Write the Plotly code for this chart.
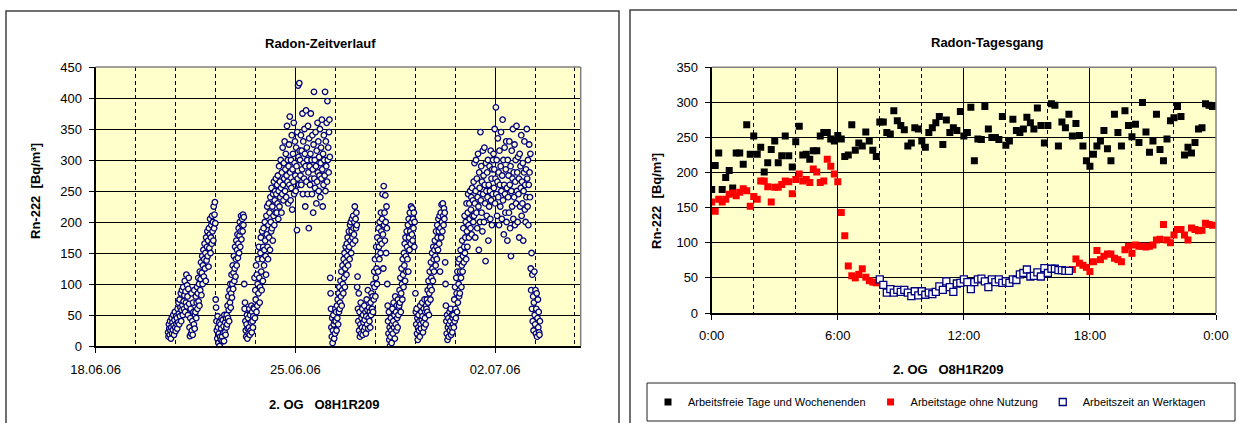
import pandas as pd
import plotly.graph_objects as go

# ---------------- data: Radon-Zeitverlauf (20-minute values per segment) ----------------
seg_starts = ["2006-06-20 13:00", "2006-06-22 05:00", "2006-06-22 14:20", "2006-06-23 05:00",
              "2006-06-23 13:20", "2006-06-26 05:20", "2006-06-27 04:00", "2006-06-28 05:20",
              "2006-06-29 05:00", "2006-06-30 06:00", "2006-06-30 13:00", "2006-07-03 06:00"]

seg_a = [22, 15, 35, 28, 18, 40, 25, 12, 30, 45, 20, 38, 26, 50, 33, 18, 42, 55, 30, 24, 48, 36,
         45, 28, 60, 38, 70, 52, 35, 75, 48, 62, 85, 40, 58, 90, 66, 50, 95, 72, 60, 82, 105, 55, 88,
         70, 115, 64, 98, 80, 50, 92, 110, 68,
         30, 16, 45, 60, 20, 85, 25, 40, 18, 70, 55, 35, 90, 28, 50,
         55, 80, 45, 70, 95, 60, 85, 110, 72, 100, 65, 120, 90, 108, 135, 82, 118, 145, 100, 130,
         155, 112, 140, 165, 125, 150, 105, 175, 138, 160, 185, 145, 170, 128, 190, 158, 180, 205, 150,
         175, 195, 165, 210, 185, 200, 170, 225, 190, 212, 232, 198]
seg_b = [75, 62, 40, 25, 12, 48, 30, 5, 20, 38, 0, 15, 35, 10, 28, 45, 15, 8, 42, 22, 32, 8, 50, 22,
         38, 18, 45, 30]
seg_c = [50, 35, 65, 45, 80, 58, 40, 90, 70, 100, 62, 85, 115, 78, 100, 130, 92, 118, 145, 105, 125,
         160, 112, 140, 170, 130, 155, 180, 142, 165, 190, 150, 178, 200, 160, 185, 210, 172, 195, 205,
         185, 212, 195, 208]
seg_d = [100, 60, 70, 40, 25, 15, 35, 50, 12, 28, 45, 20, 30, 60, 18, 50, 25, 38, 65, 22, 55, 40, 30,
         48, 62]
seg_e = [60, 110, 45, 90, 75, 130, 55, 115, 65, 100, 140, 85, 160, 110, 70, 95, 150, 175, 120, 90, 185,
         140, 105, 160, 190, 130, 155, 200, 170, 145, 115, 210, 180, 225, 160, 140, 195, 230, 175, 215,
         155, 240, 200, 185, 255, 190, 225, 170, 245, 210, 265, 195, 235, 250, 215, 270,
         245, 215, 260, 230, 275, 205, 250, 290, 225, 265, 240, 300, 255, 215, 280, 245, 320, 260, 235,
         295, 270, 330, 250, 285, 310, 240, 275, 355, 265, 300, 230, 290, 325, 260, 370, 280, 235, 300,
         255, 340, 220, 285, 310, 265, 360, 245, 295, 330, 275, 250, 320, 290, 187, 345, 270, 420, 305,
         260, 424, 315,
         300, 275, 340, 260, 315, 285, 375, 245, 330, 295, 270, 350, 310, 225, 290, 380, 265, 320, 300,
         245, 355, 280, 190, 335, 290, 260, 310, 375, 270, 300, 245, 340, 285, 215, 325, 410, 270, 300,
         255, 345, 290, 230, 315, 265, 360, 280, 330, 250, 305, 275, 350, 240, 295, 320, 270, 365, 285,
         225, 310, 260, 340, 300, 275, 410, 250, 330, 290, 360, 265, 395, 300, 320, 280, 345, 365, 305]
seg_f = [110, 85, 60, 30, 15, 45, 5, 25, 50, 35, 12, 40, 20, 60,
         40, 55, 25, 65, 45, 75, 35, 85, 55, 95, 60, 70, 105, 80, 120, 65, 90, 130, 100, 85, 140, 110,
         150, 95, 125, 160, 135, 115, 165, 145, 175, 130, 155, 185, 160, 140, 195, 170, 200, 150, 185,
         205, 175, 165, 210, 190, 180, 200, 225, 170, 205, 190, 215, 195]
seg_g = [95, 112, 60, 40, 85, 25, 55, 15, 35, 70, 20, 45, 30, 60, 18, 50, 38, 25, 65, 42, 30, 55, 20,
         48, 75, 35, 58, 90, 28, 45, 62, 40, 55, 30, 70, 50, 85, 60,
         60, 80, 55, 100, 75, 120, 95, 140, 80, 110, 160, 125, 100, 175, 145, 120, 190, 160, 140, 200,
         170, 150, 215, 185, 165, 205, 245, 180, 125, 258, 195, 215, 170, 243, 200, 150, 225, 190]
seg_h = [100, 65, 40, 20, 55, 10, 30, 0, 15, 45, 25, 5, 35, 60, 20, 40, 70, 30, 50, 12, 80, 35, 55,
         25, 65, 45, 30, 75, 50, 62,
         65, 90, 70, 110, 55, 85, 125, 100, 75, 140, 115, 95, 150, 130, 165, 105, 175, 145, 120, 185,
         160, 140, 195, 120, 205, 175, 155, 215, 185, 165, 225, 200, 180, 222, 170, 205, 190, 215, 160,
         200]
seg_i = [85, 55, 35, 60, 20, 45, 10, 30, 50, 25, 40, 15, 65, 35, 28, 55, 42, 70, 48, 22, 38, 60, 30,
         75, 45, 55, 35, 65,
         60, 75, 55, 90, 70, 105, 50, 85, 120, 95, 75, 135, 110, 90, 150, 125, 105, 160, 140, 120, 155,
         170, 145, 130, 185, 160, 140, 195, 175, 155, 205, 185, 165, 210, 120, 190, 215, 175, 228, 200,
         185, 230, 210, 195, 222, 205, 215]
seg_j = [135, 100, 65, 40, 20, 50, 10, 30, 45, 15, 35, 55, 25, 40, 60, 18, 30, 50, 22, 45, 35]
seg_k = [50, 30, 75, 40, 95, 60, 45, 110, 85, 55, 120, 70, 135, 100, 80, 140, 85, 120, 155, 110, 95,
         130, 170, 120, 145, 190, 135, 160, 210, 150, 175, 200, 140, 230, 185, 160, 215, 245, 195, 175,
         230, 205, 250, 190, 220, 240, 180, 255, 210, 235, 200,
         265, 210, 295, 230, 175, 250, 300, 215, 270, 190, 240, 310, 225, 155, 280, 255, 200, 345, 235,
         290, 215, 265, 185, 315, 245, 275, 200, 320, 260, 230, 137, 295, 250, 210, 280, 240, 300, 170,
         260, 225, 290, 250, 205, 315, 235, 270, 195, 285, 245, 300,
         310, 255, 285, 350, 230, 270, 385, 245, 300, 210, 265, 335, 240, 280, 195, 315, 260, 225, 290,
         345, 250, 205, 275, 365, 235, 300, 180, 260, 320, 245, 215, 285, 330, 200, 255, 170, 300, 240,
         275, 215, 330, 260, 190, 290, 145, 250, 315, 225, 270, 350, 205, 280, 240, 325, 195, 265, 300,
         230, 355, 250, 280, 200, 305, 245, 270, 175, 310, 225, 290, 255, 340, 210, 265, 230, 295, 170,
         250, 280, 330, 220, 260, 200, 285, 240, 350, 270, 225, 300, 195, 260, 325, 280, 240, 310]
seg_l = [125, 90, 150, 60, 115, 40, 80, 25, 70, 120, 50, 35, 90, 20, 60, 85, 15, 45, 75, 30, 55, 22,
         18, 40]

segments = [seg_a, seg_b, seg_c, seg_d, seg_e, seg_f, seg_g, seg_h, seg_i, seg_j, seg_k, seg_l]

# ---------------- data: Radon-Tagesgang (10-minute slots, 0:00 .. 23:50) ----------------
black_vals = [176, 210, 228, 176, 193, 203, 178, 228, 228, 212, 268, 226, 252, 226, 236, 201, 214, 233,
              245, 214, 224, 252, 224, 208, 244, 266, 225, 226, 219, 231, 231, 252, 257, 257, 248, 245,
              253, 248, 223, 225, 268, 232, 242, 238, 258, 245, 232, 223, 272, 272, 257, 255, 288, 274,
              267, 261, 238, 242, 264, 262, 245, 236, 257, 264, 271, 280, 240, 275, 257, 264, 260, 287,
              252, 257, 293, 217, 248, 247, 294, 262, 250, 250, 247, 280, 239, 245, 276, 260, 257, 262,
              279, 271, 262, 292, 267, 242, 267, 298, 296, 238, 272, 264, 283, 252, 270, 253, 238, 217,
              209, 226, 238, 245, 260, 234, 217, 283, 257, 238, 288, 267, 251, 269, 243, 300, 258, 229,
              245, 283, 233, 217, 248, 274, 278, 294, 280, 225, 236, 228, 243, 262, 264, 298, 296, 294]
red_morning = [158, 145, 162, 158, 162, 169, 171, 167, 172, 177, 174, 152, 166, 162, 188, 188, 180, 158,
               179, 179, 183, 188, 187, 170, 190, 198, 188, 190, 186, 205, 201, 186, 188, 219, 209, 198,
               187, 143, 110, 67, 53, 50, 55, 63, 51, 46, 44, 43]
blue_vals = [48, 40, 29, 34, 29, 33, 30, 33, 29, 24, 31, 25, 31, 26, 29, 27, 30, 38, 33, 45, 37, 30, 42,
             43, 48, 44, 34, 44, 48, 49, 45, 37, 48, 44, 48, 43, 45, 43, 48, 47, 55, 57, 62, 52, 53, 58,
             52, 64, 57, 63, 63, 61, 61, 60, 60]
red_evening = [62, 77, 71, 68, 65, 59, 73, 89, 76, 81, 84, 84, 78, 76, 73, 90, 95, 85, 97, 95, 95, 94,
               95, 97, 104, 105, 126, 104, 100, 111, 119, 119, 111, 104, 121, 119, 117, 118, 128, 126, 125]

hour_ticks = [0, 6, 12, 18, 24]
hour_labels = ["0:00", "6:00", "12:00", "18:00", "0:00"]
legend_names = ["Arbeitsfreie Tage und Wochenenden", "Arbeitstage ohne Nutzung", "Arbeitszeit an Werktagen"]

# ---------------- build ----------------
W, H = 1237, 423
FONT = "Liberation Sans, Arial, sans-serif"


def fx(p):
    return p / W


def fy(p):
    return 1 - p / H


t_x, t_y = [], []
for start, vals in zip(seg_starts, segments):
    t_x.extend(pd.date_range(start, periods=len(vals), freq="20min"))
    t_y.extend(vals)

slot_h = 10 / 60
black_x = [i * slot_h for i in range(len(black_vals))]
red_x = [i * slot_h for i in range(len(red_morning))]
blue_start = len(red_morning)
blue_x = [(blue_start + i) * slot_h for i in range(len(blue_vals))]
eve_start = blue_start + len(blue_vals)
red_eve_x = [(eve_start + i) * slot_h for i in range(len(red_evening))]

fig = go.Figure()
fig.add_trace(go.Scatter(x=t_x, y=t_y, mode="markers", xaxis="x", yaxis="y", showlegend=False,
                         marker=dict(symbol="circle", size=5.5, color="#FFFFCC",
                                     line=dict(color="#000080", width=1.3)),
                         name="Rn-222"))
fig.add_trace(go.Scatter(x=black_x, y=black_vals, mode="markers", xaxis="x2", yaxis="y2",
                         name=legend_names[0], legendgroup="a",
                         marker=dict(symbol="square", size=7, color="black")))
fig.add_trace(go.Scatter(x=red_x + red_eve_x, y=red_morning + red_evening, mode="markers",
                         xaxis="x2", yaxis="y2", name=legend_names[1], legendgroup="b",
                         marker=dict(symbol="square", size=7, color="#FF0000")))
fig.add_trace(go.Scatter(x=blue_x, y=blue_vals, mode="markers", xaxis="x2", yaxis="y2",
                         name=legend_names[2], legendgroup="c",
                         marker=dict(symbol="square", size=7, color="white",
                                     line=dict(color="#000080", width=1.3))))

axis_common = dict(showline=True, linecolor="black", linewidth=2, ticks="outside", ticklen=5,
                   tickcolor="black", tickwidth=1, showgrid=True, gridcolor="black", gridwidth=1,
                   zeroline=False, automargin=False,
                   tickfont=dict(family=FONT, size=13, color="black"))

fig.update_layout(
    width=W, height=H, margin=dict(l=0, r=0, t=0, b=0, pad=0, autoexpand=False),
    paper_bgcolor="white", plot_bgcolor="#FFFFCC",
    font=dict(family=FONT, color="black"),
    xaxis=dict(domain=[fx(95.6), fx(580.7)], anchor="y", type="date",
               range=["2006-06-18", "2006-07-05"], tick0="2006-06-18", dtick=7 * 86400000,
               tickformat="%d.%m.%y", ticklabelstandoff=5,
               minor=dict(dtick=1.4 * 86400000, tick0="2006-06-18", showgrid=True,
                          gridcolor="black", griddash="4px,3px", gridwidth=1, ticklen=0),
               **axis_common),
    yaxis=dict(domain=[fy(346), fy(67)], anchor="x", range=[0, 450], dtick=50,
               ticklabelstandoff=4, **axis_common),
    xaxis2=dict(domain=[fx(711.7), fx(1216)], anchor="y2", range=[0, 24],
                tickvals=hour_ticks, ticktext=hour_labels, ticklabelstandoff=4,
                minor=dict(dtick=2, tick0=0, showgrid=True, gridcolor="black",
                           griddash="4px,3px", gridwidth=1, ticklen=0),
                **axis_common),
    yaxis2=dict(domain=[fy(313), fy(67.3)], anchor="x2", range=[0, 350], dtick=50,
                ticklabelstandoff=4, **axis_common),
    legend=dict(orientation="h", x=fx(648), xanchor="left", y=fy(402), yanchor="middle",
                font=dict(family=FONT, size=11, color="black"), bgcolor="rgba(0,0,0,0)",
                itemwidth=30, tracegroupgap=0),
)

shapes = []
# outer chart frames
shapes.append(dict(type="rect", xref="paper", yref="paper", x0=fx(6), x1=fx(619), y0=-0.05, y1=fy(11),
                   line=dict(color="#404040", width=1.5), fillcolor="rgba(0,0,0,0)"))
shapes.append(dict(type="rect", xref="paper", yref="paper", x0=fx(630), x1=1.05, y0=-0.05, y1=fy(10),
                   line=dict(color="#404040", width=1.5), fillcolor="rgba(0,0,0,0)"))
# legend box
shapes.append(dict(type="rect", xref="paper", yref="paper", x0=fx(647), x1=fx(1235), y0=fy(421),
                   y1=fy(383), line=dict(color="#202020", width=1), fillcolor="rgba(0,0,0,0)"))
# grey plot-area borders (top and right)
for xr, yr in (("x domain", "y domain"), ("x2 domain", "y2 domain")):
    shapes.append(dict(type="line", xref=xr, yref=yr, x0=0, x1=1, y0=1, y1=1,
                       line=dict(color="#808080", width=1.5)))
    shapes.append(dict(type="line", xref=xr, yref=yr, x0=1, x1=1, y0=0, y1=1,
                       line=dict(color="#808080", width=1.5)))
fig.update_layout(shapes=shapes)

nb = "\u00a0"
ann = [
    dict(text="<b>Radon-Zeitverlauf</b>", x=fx(320), y=fy(43), size=13, angle=0),
    dict(text="<b>Radon-Tagesgang</b>", x=fx(987), y=fy(42), size=13, angle=0),
    dict(text=f"<b>2. OG{nb*3}O8H1R209</b>", x=fx(324), y=fy(404), size=13, angle=0),
    dict(text=f"<b>2. OG{nb*3}O8H1R209</b>", x=fx(948), y=fy(369), size=13, angle=0),
    dict(text=f"<b>Rn-222{nb}{nb}[Bq/m³]</b>", x=fx(35), y=fy(191), size=13, angle=-90),
    dict(text=f"<b>Rn-222{nb}{nb}[Bq/m³]</b>", x=fx(656), y=fy(201), size=13, angle=-90),
]
for a in ann:
    fig.add_annotation(text=a["text"], x=a["x"], y=a["y"], xref="paper", yref="paper",
                       xanchor="center", yanchor="middle", showarrow=False, textangle=a["angle"],
                       font=dict(family=FONT, size=a["size"], color="black"))

fig.write_html("out.html", config={"displayModeBar": False},
               post_script="document.body.style.margin='0';document.body.style.overflow='hidden';")
